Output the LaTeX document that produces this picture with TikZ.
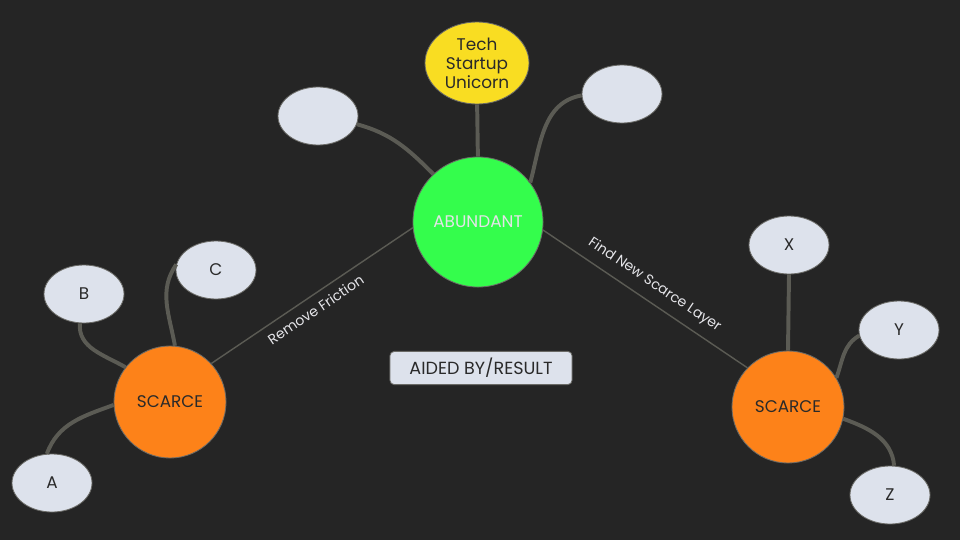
\documentclass[tikz,border=0pt]{standalone}
\usepackage{fontspec}
\setmainfont{Poppins}
\usepackage{tikz}
\usetikzlibrary{shapes.geometric,positioning}

\definecolor{bgdark}{HTML}{252525}
\definecolor{edgegray}{HTML}{6A6A66}
\definecolor{linegray}{HTML}{5B5B54}
\definecolor{leafblue}{HTML}{DDE2EC}
\definecolor{abundgreen}{HTML}{34FD4C}
\definecolor{scarceorange}{HTML}{FD8219}
\definecolor{unicornyellow}{HTML}{F9DD22}
\definecolor{textdark}{HTML}{2A2A2A}
\definecolor{textlight}{HTML}{E4E4E8}

\begin{document}
\begin{tikzpicture}[
    x=0.025cm, y=-0.025cm,
    hub/.style={circle, draw=edgegray, line width=0.6pt, minimum size=2.8cm, inner sep=0pt, text=textdark, font=\fontsize{12}{14}\selectfont},
    leaf/.style={ellipse, draw=edgegray, line width=0.6pt, fill=leafblue, minimum width=2cm, minimum height=1.45cm, inner sep=0pt, text=textdark, font=\fontsize{12}{14}\selectfont},
    branch/.style={draw=linegray, line width=2.8pt},
    link/.style={draw=linegray, line width=1pt},
    linklabel/.style={sloped, text=textlight, font=\fontsize{10}{11}\selectfont}
]

% Background
\fill[bgdark] (0,0) rectangle (960,540);

% Hubs
\node[hub, fill=abundgreen, minimum size=3.25cm, text=textlight] (abundant) at (478,222) {ABUNDANT};
\node[hub, fill=scarceorange] (scarceL) at (170,402) {SCARCE};
\node[hub, fill=scarceorange] (scarceR) at (788,407) {SCARCE};

% Leaves round the abundant hub
\node[leaf, fill=unicornyellow, minimum width=2.6cm, minimum height=2.05cm, align=center, font=\fontsize{12}{13.5}\selectfont] (unicorn) at (477,63) {Tech\\Startup\\Unicorn};
\node[leaf] (emptyL) at (318,116) {};
\node[leaf] (emptyR) at (622,94) {};

% Leaves round the scarce hubs
\node[leaf] (a) at (52,483) {A};
\node[leaf] (b) at (84,294) {B};
\node[leaf] (c) at (216,270) {C};
\node[leaf] (x) at (789,245) {X};
\node[leaf] (y) at (899,330) {Y};
\node[leaf] (z) at (890,495) {Z};

% Legend
\node[rectangle, rounded corners=3pt, draw=edgegray, line width=0.6pt, fill=leafblue, minimum width=4.55cm, minimum height=0.83cm, text=textdark, font=\fontsize{12.5}{14}\selectfont] (legend) at (481,368) {AIDED BY/RESULT};

% Branches
\draw[branch] (emptyL.-12) to[out=-15, in=135] (abundant.133);
\draw[branch] (unicorn.south) to[out=-88, in=92] (abundant.north);
\draw[branch] (emptyR.182) to[out=190, in=75] (abundant.37);
\draw[branch] (b.262) to[out=-95, in=150] (scarceL.142);
\draw[branch] (c.172) to[out=235, in=100] (scarceL.85);
\draw[branch] (a.100) to[out=70, in=200] (scarceL.183);
\draw[branch] (x.south) -- (scarceR.north);
\draw[branch] (y.188) to[out=210, in=70] (scarceR.31);
\draw[branch] (scarceR.-12) to[out=-20, in=95] (z.82);

% Links between hubs
\draw[link] (scarceL.43) -- node[linklabel, below=2pt, pos=0.48] {Remove Friction} (abundant.185);
\draw[link] (abundant.-7) -- node[linklabel, above=3pt] {Find New Scarce Layer} (scarceR.136);

\end{tikzpicture}
\end{document}
